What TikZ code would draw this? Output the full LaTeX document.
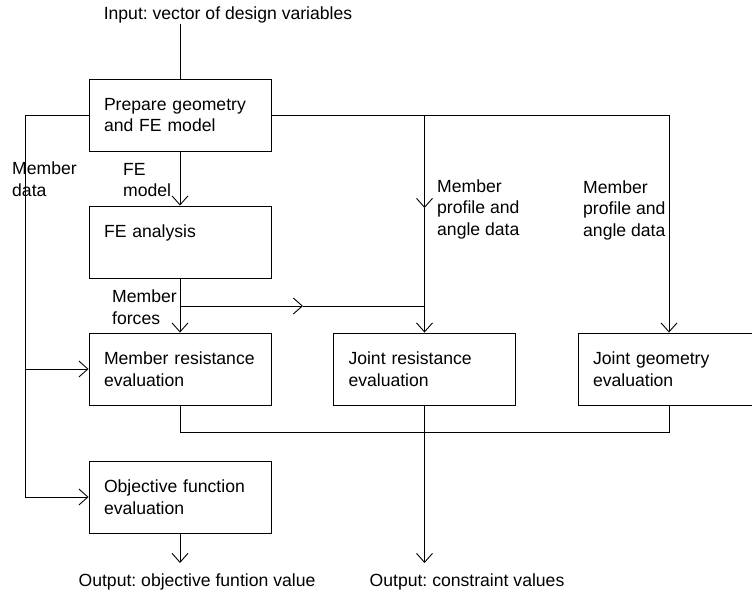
\documentclass[tikz,border=0pt]{standalone}
\usepackage{fontspec}
\setmainfont{Liberation Sans}
\frenchspacing
\usetikzlibrary{arrows.meta}
\begin{document}
\begin{tikzpicture}[x=1pt,y=-1pt,
  every node/.style={font=\fontsize{17.6}{21.5}\selectfont},
  box/.style={draw, line width=0.9pt, minimum height=72pt, text width=152pt,
    inner xsep=15pt, inner ysep=0pt, align=left},
  lbl/.style={inner sep=0pt, align=left, anchor=west},
  wire/.style={line width=0.9pt},
  arr/.style={wire, -{Straight Barb[length=9pt,width=16pt]}}]
\useasboundingbox (0,0) rectangle (752,594);
\clip (0,0) rectangle (752,594);
% boxes
\node[box] (prep) at (180,115) {Prepare geometry\\and FE model};
\node[box] (fe)   at (180,242) {FE analysis\\~};
\node[box] (mr)   at (180,369) {Member resistance\\evaluation};
\node[box] (jr)   at (424.5,369) {Joint resistance\\evaluation};
\node[box] (jg)   at (669,369) {Joint geometry\\evaluation};
\node[box] (obj)  at (180,497) {Objective function\\evaluation};
% texts
\node[inner sep=0pt] (in) at (228,15) {Input: vector of design variables};
\node[inner sep=0pt] (outo) at (197,582) {Output: objective funtion value};
\node[inner sep=0pt] (outc) at (467,582) {Output: constraint values};
\node[lbl] (lmd) at (12,179) {Member\\data};
\node[lbl] (lfe) at (123,180) {FE\\model};
\node[lbl] (lmf) at (112,307) {Member\\forces};
\node[lbl] (lp1) at (437,209) {Member\\profile and\\angle data};
\node[lbl] (lp2) at (583,210) {Member\\profile and\\angle data};
% coordinates
\coordinate (intop) at (180,24);
\coordinate (L1) at (25,115);
\coordinate (L2) at (25,369);
\coordinate (J1) at (424.5,115);
\coordinate (J2) at (424.5,208);
\coordinate (F1) at (180,306);
\coordinate (F2) at (303,306);
\coordinate (F3) at (424.5,306);
\coordinate (B1) at (180,432);
\coordinate (O1) at (424.5,563);
\coordinate (O2) at (180,563);
% connectors
\draw[wire] (intop) -- (prep.north);
\draw[arr] (prep.south) -- (fe.north);
\draw[arr] (fe.south) -- (mr.north);
\draw[wire] (prep.west) -- (L1);
\draw[arr] (L1) |- (obj.west);
\draw[arr] (L2) -- (mr.west);
\draw[arr] (prep.east) -| (jg.north);
\draw[arr] (J1) -- (J2);
\draw[arr] (J2) -- (jr.north);
\draw[arr] (F1) -- (F2);
\draw[wire] (F2) -- (F3);
\draw[wire] (mr.south) -- (B1) -| (jg.south);
\draw[arr] (jr.south) -- (O1);
\draw[arr] (obj.south) -- (O2);
\end{tikzpicture}
\end{document}
